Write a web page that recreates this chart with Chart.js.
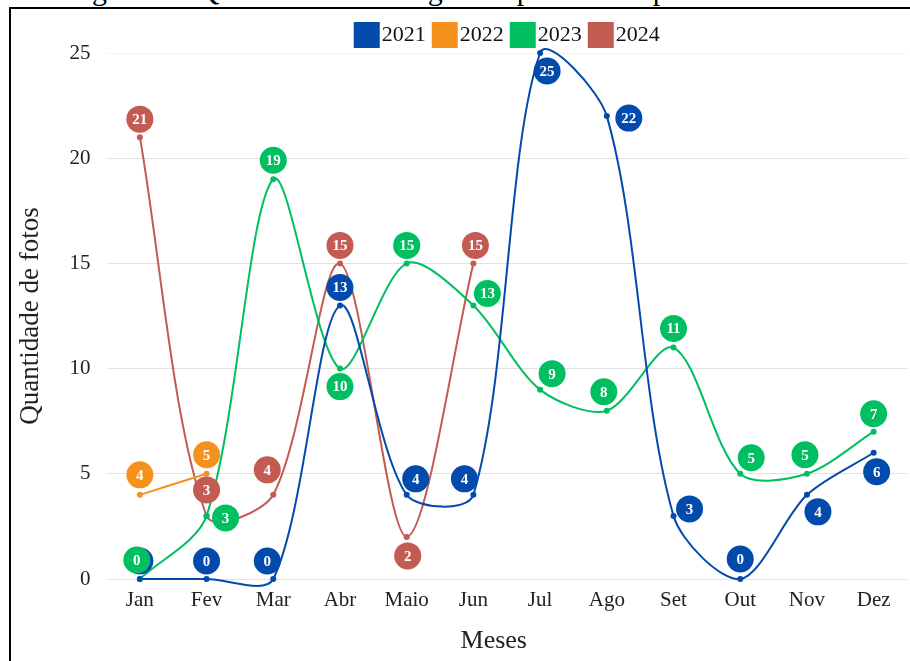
<!DOCTYPE html>
<html lang="pt-BR">
<head>
<meta charset="utf-8">
<title>Quantidade de fotos por mês</title>
<script src="https://cdn.jsdelivr.net/npm/chart.js@4.4.1/dist/chart.umd.min.js"></script>
<style>
  html, body { margin: 0; padding: 0; background: #fff; overflow: hidden; }
  #legenda-figura {
    position: absolute; left: 67px; top: -25px;
    font: 30px 'Liberation Serif', serif; line-height: 30px;
    white-space: nowrap; color: #000;
  }
  #moldura {
    position: absolute; left: 9px; top: 7px; width: 930px; height: 680px;
    border-left: 2px solid #000; border-top: 2px solid #000;
  }
  #grafico { position: absolute; left: 11px; top: 10px; }
</style>
</head>
<body>
<div id="legenda-figura">Figura 3 – Quantidade de fotografias publicadas por mês</div>
<div id="moldura"></div>
<canvas id="grafico" width="899" height="651"></canvas>
<script>
// Dados do gráfico
var meses = ['Jan', 'Fev', 'Mar', 'Abr', 'Maio', 'Jun', 'Jul', 'Ago', 'Set', 'Out', 'Nov', 'Dez'];
var anos = ['2021', '2022', '2023', '2024'];
var fotos2021 = [0, 0, 0, 13, 4, 4, 25, 22, 3, 0, 4, 6];
var fotos2022 = [4, 5, null, null, null, null, null, null, null, null, null, null];
var fotos2023 = [0, 3, 19, 10, 15, 13, 9, 8, 11, 5, 5, 7];
var fotos2024 = [21, 3, 4, 15, 2, 15, null, null, null, null, null, null];
var ticksY = [0, 5, 10, 15, 20, 25];

var cores = ['#034aad', '#f5921e', '#00bf60', '#c25b52'];

// Deslocamento (dx, dy) de cada rótulo em relação ao ponto
var rotulos2021 = [[0, -18], [0, -18], [-6, -18], [0, -18], [9, -16], [-9, -16],
                   [7, 18], [22, 2], [16, -7], [0, -20], [11, 17], [3, 19]];
var rotulos2022 = [[0, -20], [0, -19]];
var rotulos2023 = [[-3, -19], [19, 2], [0, -19], [0, 18], [0, -18], [14, -12],
                   [12, -16], [-3, -19], [0, -19], [11, -16], [-2, -19], [0, -18]];
var rotulos2024 = [[0, -18], [0, -26], [-6, -25], [0, -18], [1, 19], [2, -18]];
var deslocRotulos = [rotulos2021, rotulos2022, rotulos2023, rotulos2024];

var fonteSerif = 'Liberation Serif';

// Plugin que desenha os círculos com os valores
var rotulosCirculares = {
    id: 'rotulosCirculares',
    afterDatasetsDraw: function(chart) {
        var ctx = chart.ctx;
        ctx.save();
        ctx.font = 'bold 15px "' + fonteSerif + '"';
        ctx.textAlign = 'center';
        ctx.textBaseline = 'middle';
        chart.data.datasets.forEach(function(ds, i) {
            var meta = chart.getDatasetMeta(i);
            if (meta.hidden) return;
            meta.data.forEach(function(ponto, j) {
                var valor = ds.data[j];
                if (valor === null || valor === undefined) return;
                var d = deslocRotulos[i][j] || [0, -18];
                var x = ponto.x + d[0];
                var y = ponto.y + d[1];
                ctx.beginPath();
                ctx.arc(x, y, 13.5, 0, Math.PI * 2);
                ctx.fillStyle = cores[i];
                ctx.fill();
                ctx.fillStyle = '#fff';
                ctx.fillText(String(valor), x, y + 1);
            });
        });
        ctx.restore();
    }
};

// Legenda compacta (caixa colada ao texto), centrada na área do gráfico
var legendaCompacta = {
    id: 'legendaCompacta',
    afterDraw: function(chart) {
        var ctx = chart.ctx;
        var area = chart.chartArea;
        var caixa = 26, folga = 2, entre = 6, topo = 12;
        ctx.save();
        ctx.font = '22px "' + fonteSerif + '"';
        ctx.textBaseline = 'middle';
        ctx.textAlign = 'left';
        var larguras = chart.data.datasets.map(function(ds) {
            return caixa + folga + ctx.measureText(ds.label).width;
        });
        var total = larguras.reduce(function(a, b) { return a + b; }, 0) + entre * (larguras.length - 1);
        var x = (area.left + area.right) / 2 - total / 2;
        chart.data.datasets.forEach(function(ds, i) {
            ctx.fillStyle = ds.borderColor;
            ctx.fillRect(x, topo, caixa, caixa);
            ctx.fillStyle = '#111';
            ctx.fillText(ds.label, x + caixa + folga, topo + caixa / 2);
            x += larguras[i] + entre;
        });
        ctx.restore();
    }
};

function criarSerie(rotulo, valores, cor) {
    return {
        label: rotulo,
        data: valores,
        borderColor: cor,
        backgroundColor: cor,
        borderWidth: 2,
        pointRadius: 3,
        pointHoverRadius: 3,
        pointBackgroundColor: cor,
        pointBorderWidth: 0,
        tension: 0.3,
        clip: false
    };
}

var grafico = new Chart(document.getElementById('grafico'), {
    type: 'line',
    data: {
        labels: meses,
        datasets: [
            criarSerie(anos[0], fotos2021, cores[0]),
            criarSerie(anos[1], fotos2022, cores[1]),
            criarSerie(anos[2], fotos2023, cores[2]),
            criarSerie(anos[3], fotos2024, cores[3])
        ]
    },
    options: {
        responsive: false,
        animation: false,
        layout: { padding: { top: 43, right: 1, bottom: 0, left: 0 } },
        elements: { line: { capBezierPoints: false } },
        plugins: {
            legend: { display: false },
            tooltip: { enabled: false }
        },
        scales: {
            x: {
                offset: true,
                grid: { display: false, drawTicks: false },
                border: { display: false },
                ticks: { padding: 9, color: '#222', font: { family: fonteSerif, size: 21 } },
                title: {
                    display: true,
                    text: 'Meses\u00a0\u00a0\u00a0\u00a0',
                    color: '#222',
                    font: { family: fonteSerif, size: 26 },
                    padding: { top: 0, bottom: 4 }
                },
                afterFit: function(scale) { scale.height = 82; }
            },
            y: {
                min: ticksY[0],
                max: ticksY[ticksY.length - 1],
                grid: {
                    drawTicks: false,
                    color: function(c) { return c.tick && c.tick.value === 25 ? '#f2f2f2' : '#e2e2e2'; }
                },
                border: { display: false },
                ticks: { stepSize: ticksY[1] - ticksY[0], padding: 16, color: '#222', font: { family: fonteSerif, size: 21 } },
                title: {
                    display: true,
                    text: 'Quantidade de fotos',
                    color: '#222',
                    font: { family: fonteSerif, size: 27 },
                    padding: { top: 4, bottom: 4 }
                },
                afterFit: function(scale) { scale.width = 95.5; }
            }
        }
    },
    plugins: [rotulosCirculares, legendaCompacta]
});
</script>
</body>
</html>
